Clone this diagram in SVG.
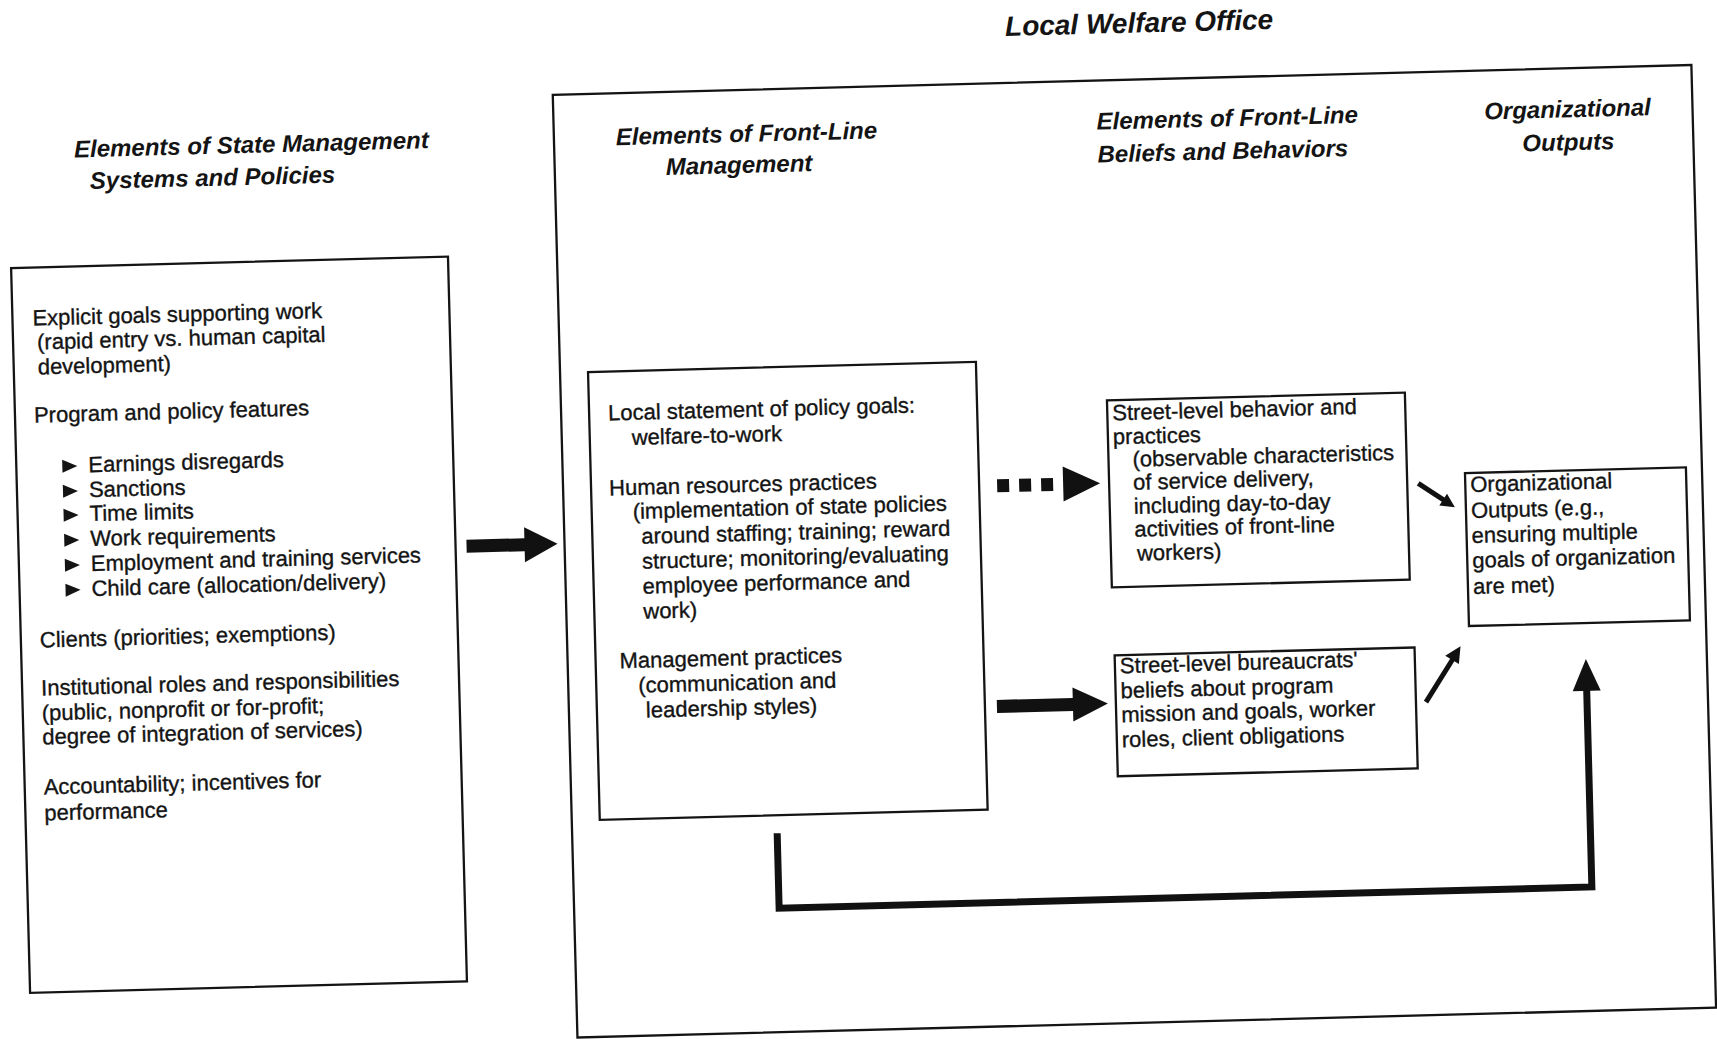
<svg xmlns="http://www.w3.org/2000/svg" width="1717" height="1039" viewBox="0 0 1717 1039">
<style>
.box{fill:none;stroke:#141414;stroke-width:2.3}
.t{font-family:"Liberation Sans",Arial,sans-serif;font-size:22px;fill:#141414;stroke:#141414;stroke-width:0.35}
.h{font-family:"Liberation Sans",Arial,sans-serif;font-size:24px;font-weight:bold;font-style:italic;fill:#141414}
.ti{font-size:28px}
.arr{fill:#111;stroke:none}
.ln{fill:none;stroke:#111;stroke-linecap:butt;stroke-linejoin:miter}
</style>
<defs>
<polygon id="bul" points="0,-13 15,-6.5 0,0" fill="#141414"/>
</defs>
<rect width="1717" height="1039" fill="#ffffff"/>
<g transform="rotate(-1.5 858 520)">
<g id="title"><text class="h ti" x="1152" y="40" text-anchor="middle">Local Welfare Office</text></g>

<g id="state-management">
<text class="h" x="84" y="137">Elements of State Management</text>
<text class="h" x="99" y="169">Systems and Policies</text>
<rect class="box" x="18" y="246" width="437" height="725"/>
<text class="t" x="38" y="304">Explicit goals supporting work</text>
<text class="t" x="42" y="328">(rapid entry vs. human capital</text>
<text class="t" x="42" y="353">development)</text>
<text class="t" x="37" y="401">Program and policy features</text>
<use href="#bul" x="64" y="452"/><text class="t" x="90" y="452">Earnings disregards</text>
<use href="#bul" x="64" y="477"/><text class="t" x="90" y="477">Sanctions</text>
<use href="#bul" x="64" y="501"/><text class="t" x="90" y="501">Time limits</text>
<use href="#bul" x="64" y="526"/><text class="t" x="90" y="526">Work requirements</text>
<use href="#bul" x="64" y="551"/><text class="t" x="90" y="551">Employment and training services</text>
<use href="#bul" x="64" y="576"/><text class="t" x="90" y="576">Child care (allocation/delivery)</text>
<text class="t" x="37" y="626">Clients (priorities; exemptions)</text>
<text class="t" x="37" y="674">Institutional roles and responsibilities</text>
<text class="t" x="37" y="699">(public, nonprofit or for-profit;</text>
<text class="t" x="37" y="723">degree of integration of services)</text>
<text class="t" x="37" y="773">Accountability; incentives for</text>
<text class="t" x="37" y="799">performance</text>
</g>

<g id="local-welfare-office">
<rect class="box" x="564" y="87" width="1139" height="943"/>
<text class="h" x="626" y="139">Elements of Front-Line</text>
<text class="h" x="675" y="170">Management</text>
<text class="h" x="1107" y="136">Elements of Front-Line</text>
<text class="h" x="1107" y="169">Beliefs and Behaviors</text>
<text class="h" x="1578" y="136" text-anchor="middle">Organizational</text>
<text class="h" x="1578" y="169" text-anchor="middle">Outputs</text>
</g>

<g id="front-line-management">
<rect class="box" x="592" y="365" width="388" height="448"/>
<text class="t" x="611" y="414">Local statement of policy goals:</text>
<text class="t" x="634" y="439">welfare-to-work</text>
<text class="t" x="610" y="489">Human resources practices</text>
<text class="t" x="633" y="513">(implementation of state policies</text>
<text class="t" x="641" y="538">around staffing; training; reward</text>
<text class="t" x="641" y="563">structure; monitoring/evaluating</text>
<text class="t" x="641" y="588">employee performance and</text>
<text class="t" x="641" y="613">work)</text>
<text class="t" x="616" y="662">Management practices</text>
<text class="t" x="634" y="687">(communication and</text>
<text class="t" x="641" y="712">leadership styles)</text>
</g>

<g id="street-level-behavior">
<rect class="box" x="1110" y="407" width="298" height="187"/>
<text class="t" x="1115" y="427">Street-level behavior and</text>
<text class="t" x="1115" y="451">practices</text>
<text class="t" x="1134" y="474">(observable characteristics</text>
<text class="t" x="1134" y="497">of service delivery,</text>
<text class="t" x="1134" y="521">including day-to-day</text>
<text class="t" x="1134" y="544">activities of front-line</text>
<text class="t" x="1136" y="568">workers)</text>
</g>

<g id="street-level-beliefs">
<rect class="box" x="1111" y="662" width="300" height="121"/>
<text class="t" x="1116" y="680">Street-level bureaucrats'</text>
<text class="t" x="1116" y="705">beliefs about program</text>
<text class="t" x="1116" y="729">mission and goals, worker</text>
<text class="t" x="1116" y="754">roles, client obligations</text>
</g>

<g id="organizational-outputs">
<rect class="box" x="1466" y="489" width="221" height="153"/>
<text class="t" x="1471" y="508">Organizational</text>
<text class="t" x="1471" y="534">Outputs (e.g.,</text>
<text class="t" x="1471" y="559">ensuring multiple</text>
<text class="t" x="1471" y="584">goals of organization</text>
<text class="t" x="1471" y="610">are met)</text>
</g>

<g id="connectors">
<path class="arr" d="M466,529.5 H524 V518.5 L557,536 L524,553.5 V542.5 H466 Z"/>
<rect class="arr" x="998" y="483" width="12" height="13"/>
<rect class="arr" x="1020" y="483" width="12" height="13"/>
<rect class="arr" x="1042" y="483" width="12" height="13"/>
<path class="arr" d="M1064,472 L1101,489.5 L1064,507 Z"/>
<path class="arr" d="M992,703.5 H1068 V693 L1103,710 L1068,727 V716.5 H992 Z"/>
<line class="ln" x1="1419" y1="498" x2="1445" y2="516" stroke-width="5"/>
<path class="arr" d="M1455,523 L1439.5,520.8 L1447.5,509.2 Z"/>
<line class="ln" x1="1421" y1="717" x2="1450" y2="673" stroke-width="5"/>
<path class="arr" d="M1457,662 L1454.9,679.8 L1441.5,671 Z"/>
<path class="ln" d="M769,831 V906 H1582 V704" stroke-width="7"/>
<path class="arr" d="M1582,678 L1596,710 L1568,710 Z"/>
</g>
</g>
</svg>
